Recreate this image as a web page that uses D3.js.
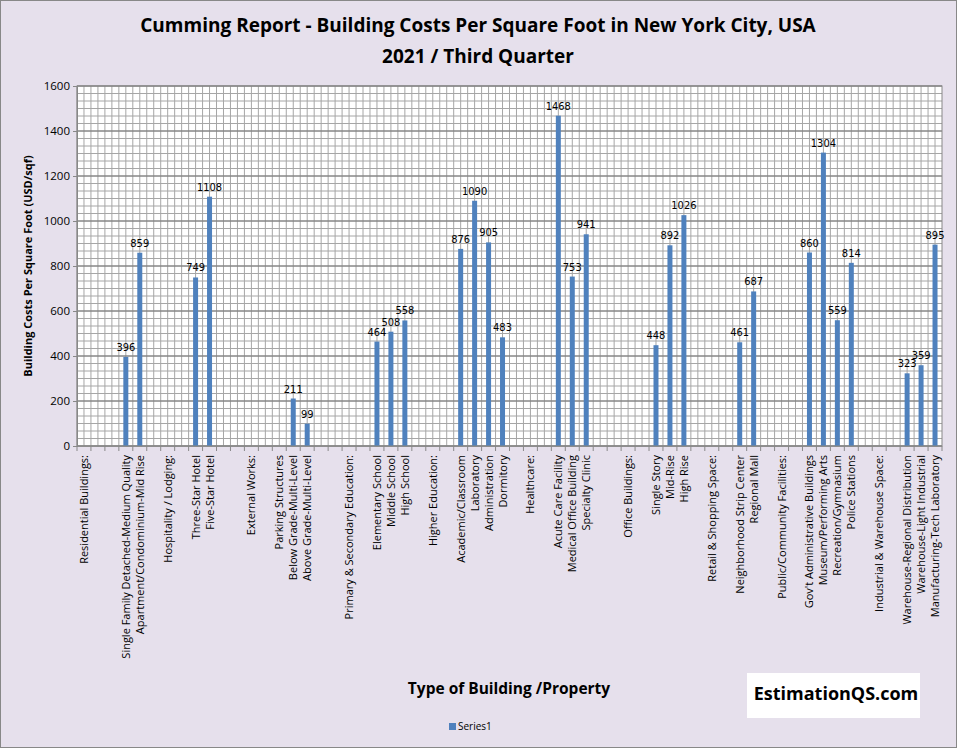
<!DOCTYPE html>
<html><head><meta charset="utf-8">
<script src="https://cdn.jsdelivr.net/npm/d3@7"></script>
<style>body{margin:0;background:#fff}svg{font-family:"Open Sans",sans-serif}</style>
</head><body><svg id="c" width="957" height="748"></svg>
<script>
const categories=["Residential Buildings:","","","Single Family Detached-Medium Quality","Apartment/Condominium-Mid Rise","","Hospitality / Lodging:","","Three-Star Hotel","Five-Star Hotel","","","External Works:","","Parking Structures","Below Grade-Multi-Level","Above Grade-Multi-Level","","","Primary & Secondary Education:","","Elementary School","Middle School","High School","","Higher Education:","","Academic/Classroom","Laboratory","Administration","Dormitory","","Healthcare:","","Acute Care Facility","Medical Office Building","Specialty Clinic","","","Office Buildings:","","Single Story","Mid-Rise","High Rise","","Retail & Shopping Space:","","Neighborhood Strip Center","Regional Mall","","Public/Community Facilities:","","Gov't Administrative Buildings","Museum/Performing Arts","Recreation/Gymnasium","Police Stations","","Industrial & Warehouse Space:","","Warehouse-Regional Distribution","Warehouse-Light Industrial","Manufacturing-Tech Laboratory"];
const values=[null,null,null,396,859,null,null,null,749,1108,null,null,null,null,null,211,99,null,null,null,null,464,508,558,null,null,null,876,1090,905,483,null,null,null,1468,753,941,null,null,null,null,448,892,1026,null,null,null,461,687,null,null,null,860,1304,559,814,null,null,null,323,359,895];
const yTicks=[0,200,400,600,800,1000,1200,1400,1600];
const svg=d3.select("#c");
const W=957,H=748,L=77,R=942,T=86,B=446;
svg.append("rect").attr("x",0.5).attr("y",0.5).attr("width",W-1).attr("height",H-1).attr("fill","#E6E0EC").attr("stroke","#888");
const idx=categories.map((d,i)=>i);
const x=d3.scaleBand().domain(idx).range([L,R]);
const y=d3.scaleLinear().domain([0,1600]).range([B,T]);
svg.append("rect").attr("x",L).attr("y",T).attr("width",R-L).attr("height",B-T).attr("fill","#fff");
const g=svg.append("g");
for(let v=0;v<=1600;v+=200/6){g.append("line").attr("x1",L).attr("x2",R).attr("y1",y(v)).attr("y2",y(v)).attr("stroke","#a6a6a6").attr("stroke-width",1);}
idx.forEach(i=>{[0,0.5].forEach(f=>{const xx=x(i)+f*x.bandwidth();g.append("line").attr("x1",xx).attr("x2",xx).attr("y1",T).attr("y2",B).attr("stroke","#a6a6a6");});});
yTicks.forEach(v=>g.append("line").attr("x1",L).attr("x2",R).attr("y1",y(v)).attr("y2",y(v)).attr("stroke","#777"));
g.append("rect").attr("x",L).attr("y",T).attr("width",R-L).attr("height",B-T).attr("fill","none").attr("stroke","#888");
const data=idx.filter(i=>values[i]!=null);
const bw=5;
svg.selectAll(".bar").data(data).enter().append("rect").attr("fill","#4F81BD")
 .attr("x",i=>x(i)+x.bandwidth()/2-bw/2).attr("width",bw).attr("y",i=>y(values[i])).attr("height",i=>B-y(values[i]));
svg.selectAll(".lbl").data(data).enter().append("text").attr("x",i=>x(i)+x.bandwidth()/2).attr("y",i=>y(values[i])-6)
 .attr("text-anchor","middle").attr("font-size",11).attr("font-family","DejaVu Sans Condensed, DejaVu Sans").attr("fill","#000").text(i=>values[i]);
const ya=d3.axisLeft(y).tickValues(yTicks).tickSize(4).tickFormat(d3.format("d"));
const yg=svg.append("g").attr("transform",`translate(${L},0)`).call(ya);
yg.selectAll("text").attr("font-size",11.5).attr("font-family","Open Sans");
yg.select(".domain").attr("stroke","#888");yg.selectAll("line").attr("stroke","#888");
const xg=svg.append("g").attr("transform",`translate(0,${B})`);
xg.append("line").attr("x1",L).attr("x2",R).attr("stroke","#888");
idx.concat([categories.length]).forEach(i=>{const xx=i<categories.length?x(i):R;xg.append("line").attr("x1",xx).attr("x2",xx).attr("y1",0).attr("y2",5).attr("stroke","#888");});
svg.selectAll(".cl").data(idx).enter().append("text").attr("font-size",11).attr("text-anchor","end")
 .attr("transform",i=>`translate(${x(i)+x.bandwidth()/2+4},455) rotate(-90)`).text(i=>categories[i]);
svg.append("text").attr("x",478).attr("y",32).attr("text-anchor","middle").attr("font-size",19).attr("font-weight","bold").text("Cumming Report - Building Costs Per Square Foot in New York City, USA");
svg.append("text").attr("x",478).attr("y",63).attr("text-anchor","middle").attr("font-size",19).attr("font-weight","bold").text("2021 / Third Quarter");
svg.append("text").attr("transform","translate(32,266) rotate(-90)").attr("text-anchor","middle").attr("font-size",11).attr("font-weight","bold").text("Building Costs Per Square Foot (USD/sqf)");
svg.append("text").attr("x",509).attr("y",694).attr("text-anchor","middle").attr("font-size",15.5).attr("font-weight","bold").text("Type of Building /Property");
svg.append("rect").attr("x",747).attr("y",673).attr("width",173).attr("height",45).attr("fill","#fff");
svg.append("text").attr("x",836).attr("y",700).attr("text-anchor","middle").attr("font-size",18).attr("font-weight","bold").text("EstimationQS.com");
svg.append("rect").attr("x",449).attr("y",723).attr("width",7).attr("height",7).attr("fill","#4F81BD");
svg.append("text").attr("x",458).attr("y",730).attr("font-size",10).text("Series1");
</script></body></html>
